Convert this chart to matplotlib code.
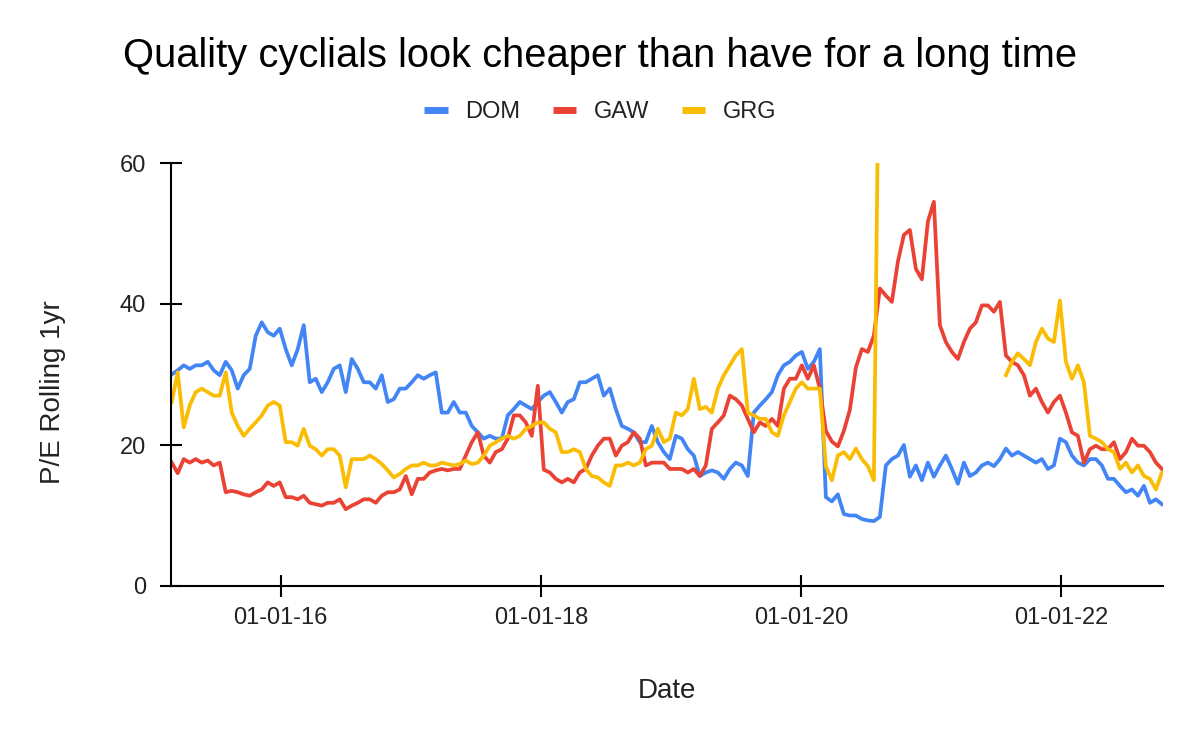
import numpy as np
import pandas as pd
import matplotlib
matplotlib.use("Agg")
import matplotlib.pyplot as plt
import matplotlib.dates as mdates
from matplotlib.lines import Line2D

plt.rcParams['font.family'] = ['Liberation Sans', 'DejaVu Sans']

title = "Quality cyclials look cheaper than have for a long time"
series_names = ["DOM", "GAW", "GRG"]
series_colors = ["#4285F4", "#EA4335", "#FBBC04"]

# sampling grid (regular, ~17 days)
start_date = "2015-03-01"
end_date = "2022-10-11"
n_points = 166

dom = [
    30.0, 30.6, 31.3, 30.8, 31.3, 31.3, 31.8, 30.6, 29.9, 31.8, 30.6, 28.0, 29.9, 30.8, 35.5, 37.4, 36.0, 35.5, 36.5, 33.6,
    31.3, 33.6, 37.0, 28.9, 29.4, 27.5, 28.9, 30.8, 31.3,
    27.5, 32.2, 30.8, 28.9, 28.9, 28.0, 29.9, 26.1, 26.5, 28.0, 28.0, 28.9, 29.9, 29.4, 29.9, 30.3, 24.6, 24.6, 26.1, 24.6,
    24.6, 22.7, 21.8, 20.9, 21.3, 20.9, 20.9, 24.2,
    25.1, 26.1, 25.6, 25.1, 26.1, 27.0, 27.5, 26.1, 24.6, 26.1, 26.5, 28.9, 28.9, 29.4, 29.9, 27.0, 28.0, 25.1, 22.7, 22.3,
    21.8, 20.4, 20.4, 22.7, 20.4, 19.0, 18.0, 21.3,
    20.9, 19.4, 18.5, 15.6, 16.1, 16.4, 16.1, 15.2, 16.6, 17.5, 17.1, 15.6, 24.6, 25.6, 26.5, 27.5, 29.9, 31.3, 31.8, 32.7,
    33.2, 30.8, 31.8, 33.6, 12.6, 12.0, 13.0, 10.2, 10.0,
    10.0, 9.5, 9.3, 9.2, 9.8, 17.1, 18.0, 18.5, 20.0, 15.5, 17.1, 15.0, 17.5, 15.5, 17.1, 18.5, 16.6, 14.5, 17.5, 15.6,
    16.1, 17.1, 17.5, 17.0, 18.0, 19.5, 18.5, 19.0,
    18.5, 18.0, 17.5, 18.0, 16.6, 17.1, 20.9, 20.4, 18.5, 17.5, 17.1, 18.0, 18.0, 17.1, 15.2, 15.2, 14.2, 13.3, 13.7, 12.8,
    14.2, 11.8, 12.3, 11.6,
]

gaw = [
    17.5, 16.0, 18.0, 17.5, 18.0, 17.5, 17.8, 17.1, 17.5, 13.3, 13.5, 13.3, 13.0, 12.8, 13.3, 13.7, 14.7, 14.2, 14.7, 12.6,
    12.6, 12.3, 12.8, 11.8, 11.6, 11.4, 11.8, 11.8, 12.3,
    10.9, 11.4, 11.8, 12.3, 12.3, 11.8, 12.8, 13.3, 13.3, 13.7, 15.6, 13.0, 15.2, 15.2, 16.1, 16.4, 16.6, 16.4, 16.6, 16.6,
    18.5, 20.4, 21.8, 18.5, 17.5, 19.0, 19.4, 20.9,
    24.2, 24.2, 23.2, 21.3, 28.4, 16.5, 16.1, 15.2, 14.7, 15.2, 14.7, 16.1, 16.6, 18.5, 19.9, 20.9, 20.9, 18.5, 19.9, 20.4,
    21.8, 20.9, 17.1, 17.5, 17.5, 17.5, 16.6, 16.6,
    16.6, 16.1, 16.6, 15.6, 17.1, 22.3, 23.2, 24.2, 27.0, 26.5, 25.6, 23.7, 21.8, 23.2, 22.7, 23.7, 22.7, 28.0, 29.4, 29.4,
    31.3, 29.4, 31.3, 28.0, 22.0, 20.5, 19.8, 22.0, 25.0,
    31.0, 33.6, 33.2, 35.5, 42.2, 41.2, 40.3, 46.0, 49.8, 50.5, 45.0, 43.5, 51.7, 54.5, 37.0, 34.6, 33.2, 32.2, 34.6, 36.5,
    37.4, 39.8, 39.8, 38.9, 40.3, 32.7, 31.8, 31.3,
    29.9, 27.0, 28.0, 26.1, 24.6, 26.1, 27.0, 24.6, 21.8, 21.3, 17.5, 19.4, 19.9, 19.4, 19.4, 20.4, 18.0, 19.0, 20.9, 19.9,
    19.9, 19.0, 17.5, 16.6,
]

nan = np.nan
grg = [
    26.1, 30.3, 22.5, 25.6, 27.5, 28.0, 27.5, 27.0, 27.0, 30.3, 24.6, 22.7, 21.3, 22.3, 23.2, 24.2, 25.6, 26.1, 25.6, 20.4,
    20.4, 19.9, 22.3, 19.9, 19.4, 18.5, 19.4, 19.4, 18.5,
    14.0, 18.0, 18.0, 18.0, 18.5, 18.0, 17.3, 16.4, 15.4, 15.9, 16.6, 17.1, 17.1, 17.5, 17.1, 17.1, 17.5, 17.3, 17.1, 17.3,
    17.8, 17.3, 17.5, 18.5, 19.9, 20.4, 20.9, 21.3,
    20.9, 21.3, 22.3, 22.7, 23.2, 23.2, 22.3, 21.8, 19.0, 19.0, 19.4, 19.0, 16.6, 15.6, 15.4, 14.7, 14.2, 17.1, 17.1, 17.5,
    17.1, 17.5, 19.4, 19.9, 22.3, 20.4, 20.9, 24.6,
    24.2, 25.1, 29.4, 25.1, 25.4, 24.6, 28.0, 29.9, 31.3, 32.7, 33.6, 24.6, 24.2, 23.7, 23.7, 21.8, 21.3, 24.2, 26.1, 28.0,
    28.9, 28.0, 28.0, 28.0, 17.0, 15.0, 18.5, 19.0, 18.0,
    19.5, 18.0, 17.0, 15.0, 90.0, nan, nan, nan, nan, nan, nan, nan, nan, nan, nan, nan, nan, nan, nan, nan,
    nan, nan, nan, nan, nan, 29.9, 31.8, 33.0,
    32.2, 31.3, 34.6, 36.5, 35.1, 34.6, 40.5, 31.8, 29.4, 31.3, 28.9, 21.3, 20.9, 20.4, 19.4, 19.0, 16.6, 17.5, 16.1, 17.1,
    15.6, 15.2, 13.7, 16.1,
]

x_ticks = ["2016-01-01", "2018-01-01", "2020-01-01", "2022-01-01"]
y_ticks = [0, 20, 40, 60]
x_label = "Date"
y_label = "P/E Rolling 1yr"

dates = pd.date_range(start_date, end_date, periods=n_points)

fig = plt.figure(figsize=(12, 7.42), dpi=100)
ax = fig.add_axes([171 / 1200, 1 - 586 / 742, (1163 - 171) / 1200, (586 - 163) / 742])

for vals, color in zip([dom, gaw, grg], series_colors):
    ax.plot(dates, vals, color=color, lw=2.7, solid_joinstyle='round')

ax.set_xlim(pd.Timestamp("2015-02-27"), pd.Timestamp("2022-10-14"))
ax.set_ylim(0, 60)
ax.set_yticks(y_ticks)
ax.set_xticks(pd.to_datetime(x_ticks))
ax.xaxis.set_major_formatter(mdates.DateFormatter('%m-%d-%y'))

for s in ['top', 'right']:
    ax.spines[s].set_visible(False)
for s in ['left', 'bottom']:
    ax.spines[s].set_linewidth(1.5)
    ax.spines[s].set_color('black')

ax.tick_params(axis='both', direction='inout', length=16, width=1.5, labelsize=17, colors='black', labelcolor='#222222')
ax.tick_params(axis='y', pad=10)
ax.tick_params(axis='x', pad=7)

ax.set_xlabel(x_label, fontsize=20, color='#222222')
ax.set_ylabel(y_label, fontsize=20, color='#222222')
ax.xaxis.set_label_coords(0.5, (586 - 678) / 423)
ax.yaxis.set_label_coords((66 - 171) / 992, (586 - 392) / 423)

fig.text(0.5, 1 - 56 / 742, title, ha='center', va='center', fontsize=28.7, color='black')

handles = [Line2D([0], [0], color=c, lw=5, solid_capstyle='butt') for c in series_colors]
fig.legend(handles, series_names, loc='center', bbox_to_anchor=(0.5, 1 - 112 / 742), ncol=3, frameon=False,
           fontsize=17, handlelength=1.0, handletextpad=0.72, columnspacing=1.4, labelcolor='#222222')

fig.savefig("out.png", dpi=100)
